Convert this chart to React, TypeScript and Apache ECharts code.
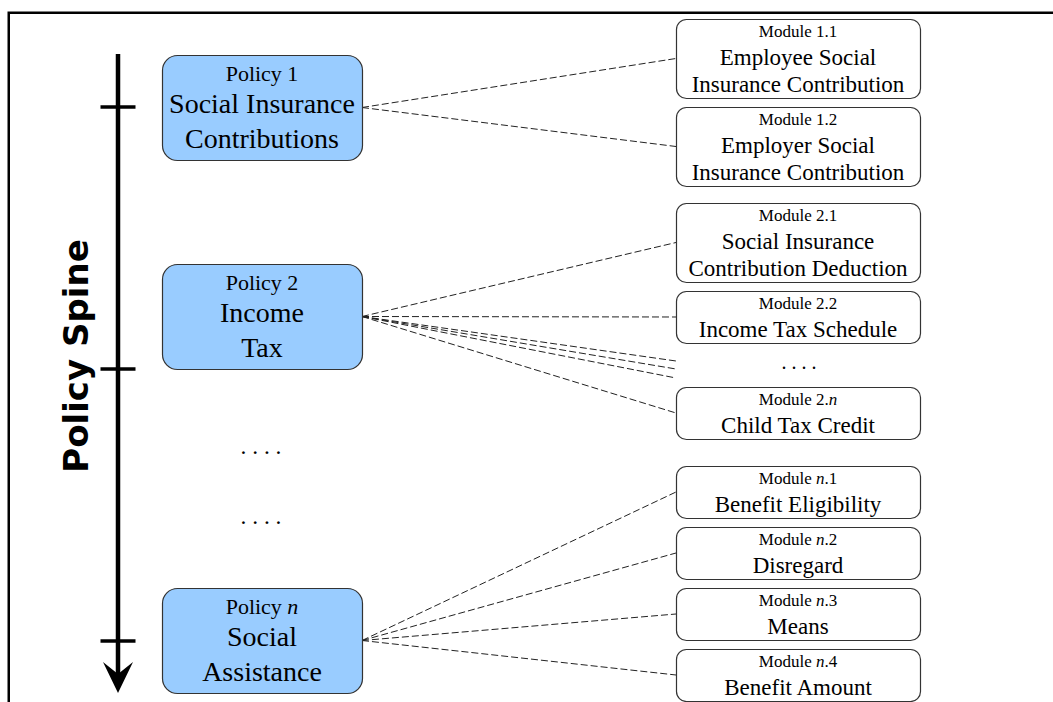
import React, { useEffect, useRef } from "react";
import * as echarts from "echarts";

// ---------- content ----------
const spineTitle = "Policy Spine";
const policyNames = ["Policy 1", "Policy 2", "Policy {i|n}"];
const policyTitles = [
  ["Social Insurance", "Contributions"],
  ["Income", "Tax"],
  ["Social", "Assistance"],
];
const moduleNames = [
  "Module 1.1",
  "Module 1.2",
  "Module 2.1",
  "Module 2.2",
  "Module 2.{i|n}",
  "Module {i|n}.1",
  "Module {i|n}.2",
  "Module {i|n}.3",
  "Module {i|n}.4",
];
const moduleTitles = [
  ["Employee Social", "Insurance Contribution"],
  ["Employer Social", "Insurance Contribution"],
  ["Social Insurance", "Contribution Deduction"],
  ["Income Tax Schedule"],
  ["Child Tax Credit"],
  ["Benefit Eligibility"],
  ["Disregard"],
  ["Means"],
  ["Benefit Amount"],
];
const modulePolicy = [0, 0, 1, 1, 1, 2, 2, 2, 2];
// links from a policy to the elided "...." module placeholder
const elidedLinkPolicy = [1, 1, 1];
const ellipsisText = ". . . .";

// ---------- layout (diagram units = pixels of a hidden 1053 x 702 axis pair) ----------
const LAYOUT = {
  policyX: [162, 362],
  policyY: [
    [55, 160],
    [264, 369],
    [588, 693],
  ],
  moduleX: [676, 920],
  moduleY: [
    [19, 98],
    [107, 186],
    [203, 282],
    [291, 343],
    [387, 439],
    [466, 518],
    [527, 579],
    [588, 640],
    [649, 701],
  ],
  elidedEndY: [361, 369, 378],
  moduleEllipsis: [799, 362],
  policyEllipsis: [
    [261, 446],
    [261, 516],
  ],
  spineX: 118,
  spineTop: 54,
  spineTip: 693,
  spineTicks: [107, 369, 641],
  tickHalf: 17.5,
  title: [76, 356],
};

const SERIF = "Liberation Serif";
const BLUE = "#99CCFF";
const EDGE = "#333333";

function richFor(size: number) {
  return {
    i: { fontStyle: "italic", fontSize: size, fontFamily: SERIF, fill: "#000" },
  };
}

function textEl(x: number, y: number, text: string, size: number) {
  return {
    type: "text",
    x,
    y,
    style: {
      text,
      fontSize: size,
      fontFamily: SERIF,
      fill: "#000",
      align: "center",
      verticalAlign: "middle",
      rich: richFor(size),
    },
  };
}

export default function App() {
  const ref = useRef<HTMLDivElement>(null);

  useEffect(() => {
    if (!ref.current) return;
    const chart = echarts.init(ref.current, undefined, { renderer: "svg" });

    const links: { p: number; kind: "m" | "e"; t: number }[] = [];
    modulePolicy.forEach((p, i) => links.push({ p, kind: "m", t: i }));
    elidedLinkPolicy.forEach((p, i) => links.push({ p, kind: "e", t: i }));

    const option: any = {
      animation: false,
      textStyle: { fontFamily: SERIF },
      grid: { left: 0, right: 0, top: 0, bottom: 0 },
      xAxis: { type: "value", min: 0, max: 1053, show: false },
      yAxis: { type: "value", min: 0, max: 702, inverse: true, show: false },
      graphic: [
        {
          type: "rect",
          shape: { x: 8.75, y: 12.75, width: 1300, height: 1000 },
          style: { fill: "none", stroke: "#000", lineWidth: 2.5 },
          silent: true,
        },
      ],
      series: [
        // spine, ticks, arrow, title and ellipses
        {
          type: "custom",
          coordinateSystem: "cartesian2d",
          data: [[0, 0]],
          silent: true,
          renderItem: (_params: any, api: any) => {
            const c = (x: number, y: number) => api.coord([x, y]);
            const top = c(LAYOUT.spineX, LAYOUT.spineTop);
            const tip = c(LAYOUT.spineX, LAYOUT.spineTip);
            const children: any[] = [];
            children.push({
              type: "line",
              shape: { x1: top[0], y1: top[1], x2: tip[0], y2: tip[1] - 14 },
              style: { stroke: "#000", lineWidth: 4.5 },
            });
            children.push({
              type: "polygon",
              shape: {
                points: [
                  [tip[0], tip[1]],
                  [tip[0] - 15, tip[1] - 31],
                  [tip[0], tip[1] - 19],
                  [tip[0] + 15, tip[1] - 31],
                ],
              },
              style: { fill: "#000" },
            });
            LAYOUT.spineTicks.forEach((ty) => {
              const a = c(LAYOUT.spineX - LAYOUT.tickHalf, ty);
              const b = c(LAYOUT.spineX + LAYOUT.tickHalf, ty);
              children.push({
                type: "line",
                shape: { x1: a[0], y1: a[1], x2: b[0], y2: b[1] },
                style: { stroke: "#000", lineWidth: 3.5 },
              });
            });
            const tp = c(LAYOUT.title[0], LAYOUT.title[1]);
            children.push({
              type: "text",
              x: tp[0],
              y: tp[1],
              rotation: Math.PI / 2,
              style: {
                text: spineTitle,
                fontSize: 34,
                fontWeight: "bold",
                fontFamily: "DejaVu Sans",
                fill: "#000",
                align: "center",
                verticalAlign: "middle",
              },
            });
            LAYOUT.policyEllipsis.forEach(([ex, ey]) => {
              const p = c(ex, ey);
              children.push(textEl(p[0], p[1], ellipsisText, 23.4));
            });
            const me = c(LAYOUT.moduleEllipsis[0], LAYOUT.moduleEllipsis[1]);
            children.push(textEl(me[0], me[1], ellipsisText, 20));
            return { type: "group", children };
          },
        },
        // dashed links
        {
          type: "custom",
          coordinateSystem: "cartesian2d",
          data: links.map((_, i) => [i, 0]),
          silent: true,
          renderItem: (params: any, api: any) => {
            const l = links[params.dataIndex];
            const py = LAYOUT.policyY[l.p];
            const start = api.coord([LAYOUT.policyX[1], (py[0] + py[1]) / 2]);
            let ey: number;
            if (l.kind === "m") {
              const my = LAYOUT.moduleY[l.t];
              ey = (my[0] + my[1]) / 2;
            } else {
              ey = LAYOUT.elidedEndY[l.t];
            }
            const end = api.coord([LAYOUT.moduleX[0], ey]);
            return {
              type: "line",
              shape: { x1: start[0], y1: start[1], x2: end[0], y2: end[1] },
              style: { stroke: "#222", lineWidth: 1, lineDash: [7, 3], fill: "none" },
            };
          },
        },
        // policy boxes
        {
          type: "custom",
          coordinateSystem: "cartesian2d",
          data: policyNames.map((_, i) => [i, 0]),
          silent: true,
          renderItem: (params: any, api: any) => {
            const i = params.dataIndex;
            const [y0, y1] = LAYOUT.policyY[i];
            const a = api.coord([LAYOUT.policyX[0], y0]);
            const b = api.coord([LAYOUT.policyX[1], y1]);
            const cx = (a[0] + b[0]) / 2;
            const children: any[] = [
              {
                type: "rect",
                shape: { x: a[0] + 0.5, y: a[1] + 0.5, width: b[0] - a[0], height: b[1] - a[1], r: 15 },
                style: { fill: BLUE, stroke: EDGE, lineWidth: 1.2 },
              },
              textEl(cx, a[1] + 18, policyNames[i], 22),
            ];
            policyTitles[i].forEach((t, k) => {
              children.push(textEl(cx, a[1] + 48.5 + 35 * k, t, 28));
            });
            return { type: "group", children };
          },
        },
        // module boxes
        {
          type: "custom",
          coordinateSystem: "cartesian2d",
          data: moduleNames.map((_, i) => [i, 0]),
          silent: true,
          renderItem: (params: any, api: any) => {
            const i = params.dataIndex;
            const [y0, y1] = LAYOUT.moduleY[i];
            const a = api.coord([LAYOUT.moduleX[0], y0]);
            const b = api.coord([LAYOUT.moduleX[1], y1]);
            const cx = (a[0] + b[0]) / 2;
            const children: any[] = [
              {
                type: "rect",
                shape: { x: a[0] + 0.5, y: a[1] + 0.5, width: b[0] - a[0], height: b[1] - a[1], r: 10 },
                style: { fill: "#fff", stroke: EDGE, lineWidth: 1.2 },
              },
              textEl(cx, a[1] + 12.5, moduleNames[i], 17),
            ];
            moduleTitles[i].forEach((t, k) => {
              children.push(textEl(cx, a[1] + 38 + 27 * k, t, 23));
            });
            return { type: "group", children };
          },
        },
      ],
    };

    chart.setOption(option);
    return () => chart.dispose();
  }, []);

  return (
    <div
      ref={ref}
      style={{ position: "fixed", left: 0, top: 0, width: 1053, height: 702, background: "#fff" }}
    />
  );
}
